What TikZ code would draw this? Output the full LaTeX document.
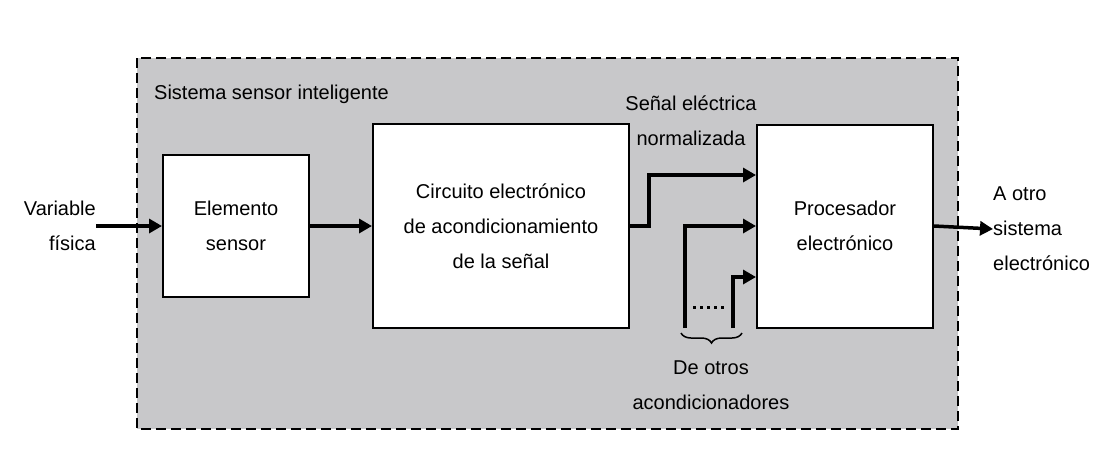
\documentclass[tikz,border=0pt]{standalone}
\usepackage{fontspec}
\setmainfont{Liberation Sans}
\usepackage{tikz}
\usetikzlibrary{arrows.meta,positioning,decorations.pathreplacing}
\definecolor{sysgray}{HTML}{C8C8CA}

\begin{document}
\begin{tikzpicture}[x=1pt,y=-1pt,font=\fontsize{20}{35}\selectfont,
  block/.style={draw,line width=2pt,fill=white,align=center,inner sep=0pt},
  sig/.style={line width=3.5pt,-{Triangle[length=13pt,width=14pt]}},
  lbl/.style={align=center,inner sep=0pt}]
\useasboundingbox (0,0) rectangle (1105,459);
% smart sensor system frame
\draw[fill=sysgray,line width=2pt,dash pattern=on 10pt off 5pt] (137,58) rectangle (958,429);
\node[anchor=west,inner sep=0pt] (tit) at (154,94) {Sistema sensor inteligente};
% blocks
\node[block,minimum width=146pt,minimum height=142pt] (elem) at (236,226) {Elemento\\sensor};
\node[block,minimum width=256pt,minimum height=204pt] (circ) at (501,226) {Circuito electrónico\\de acondicionamiento\\de la señal};
\node[block,minimum width=176pt,minimum height=203pt] (proc) at (845,226) {Procesador\\electrónico};
% outer labels
\node[lbl,align=right,anchor=east] (var) at (96,226) {Variable\\física};
\node[lbl,align=left,anchor=west] (otro) at (993,229) {A otro\\sistema\\electrónico};
\node[lbl] (norm) at (691,121) {Señal eléctrica\\normalizada};
\node[lbl] (deotros) at (711,385) {De otros\\acondicionadores};
% signal paths
\draw[sig] (var.east) -- (elem.west);
\draw[sig] (elem.east) -- (circ.west);
\draw[sig] (proc.east) -- (otro.west);
\coordinate (bend) at (649,175);
\draw[sig] (circ.east) -| (bend) -- (bend -| proc.west);
\coordinate (in2) at (685,328);
\draw[sig] (in2) |- (proc.west);
\coordinate (in3) at (733,328);
\coordinate (t3) at (733,277);
\draw[sig] (in3) -- (t3) -- (t3 -| proc.west);
\draw[line width=3pt,dash pattern=on 3pt off 4pt] (693,307) -- (727,307);
\draw[line width=1.5pt,decorate,decoration={brace,mirror,amplitude=10pt}] (681,333) -- (742,333);
\end{tikzpicture}
\end{document}
